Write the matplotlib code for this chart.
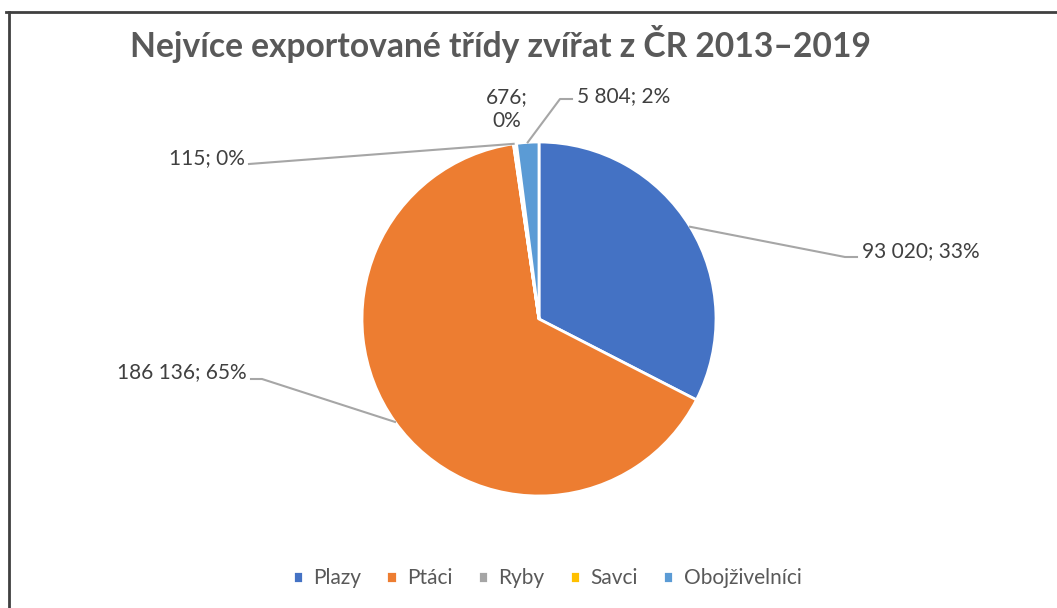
import math
import matplotlib
matplotlib.use("Agg")
import matplotlib.pyplot as plt
from matplotlib.lines import Line2D

plt.rcParams['font.family'] = ['Lato', 'DejaVu Sans']

categories = ['Plazy', 'Ptáci', 'Ryby', 'Savci', 'Obojživelníci']
values = [93020, 186136, 115, 676, 5804]
colors = ['#4472C4', '#ED7D31', '#A5A5A5', '#FFC000', '#5B9BD5']

W, H = 1057, 608
cx, cy, r = 539, 319, 177  # pie centre / radius in pixels

fig = plt.figure(figsize=(W / 100, H / 100), dpi=100)
ax = fig.add_axes([(cx - r) / W, (H - cy - r) / H, 2 * r / W, 2 * r / H])

wedges, _ = ax.pie(values, colors=colors, startangle=90, counterclock=False,
                   wedgeprops=dict(edgecolor='white', linewidth=2))
ax.set_xlim(-1, 1)
ax.set_ylim(-1, 1)


def px(x, y):
    # pixel position -> pie data coords
    return (x - cx) / r, (cy - y) / r


total = sum(values)
labels = [f"{v:,}".replace(",", " ") + f"; {round(v / total * 100)}%" for v in values]
labels[3] = labels[3].replace("; ", ";\n")

# label placement (pixels): text anchor, alignment, leader line path
placement = [
    dict(pos=(862, 251), ha='left', path=[(845, 257), (857, 257)]),
    dict(pos=(247, 372), ha='right', path=[(262, 379), (251, 379)]),
    dict(pos=(245, 158), ha='right', path=[(249, 164)]),
    dict(pos=(507, 109), ha='center', path=None),
    dict(pos=(577, 96), ha='left', path=[(560, 99), (572, 99)]),
]

lab_color = '#404040'
for w, lab, pl in zip(wedges, labels, placement):
    mid = math.radians((w.theta1 + w.theta2) / 2)
    ex, ey = math.cos(mid), math.sin(mid)
    if pl['path']:
        pts = [(ex, ey)] + [px(*p) for p in pl['path']]
        ax.add_line(Line2D([p[0] for p in pts], [p[1] for p in pts],
                           color='#A6A6A6', lw=1.5, clip_on=False))
    tx, ty = px(*pl['pos'])
    ax.text(tx, ty, lab, ha=pl['ha'], va='center', fontsize=15,
            color=lab_color, clip_on=False, linespacing=1.25)

fig.text(501 / W, 1 - 44 / H, 'Nejvíce exportované třídy zvířat z ČR 2013–2019',
         ha='center', va='center', fontsize=24.2, fontweight='bold', color='#595959')

fig.legend(wedges, categories, loc='center', bbox_to_anchor=(547 / W, 1 - 578 / H),
           ncol=5, frameon=False, fontsize=15, labelcolor='#595959',
           handlelength=0.5, handleheight=0.5, handletextpad=0.5, columnspacing=1.2)

# chart area border (top and left only visible)
fig.add_artist(Line2D([6 / W, 1], [1 - 11.5 / H, 1 - 11.5 / H], color='#404040', lw=2,
                      transform=fig.transFigure))
fig.add_artist(Line2D([9 / W, 9 / W], [0, 1 - 11.5 / H], color='#404040', lw=2,
                      transform=fig.transFigure))

fig.savefig('out.png', dpi=100, facecolor='white')
